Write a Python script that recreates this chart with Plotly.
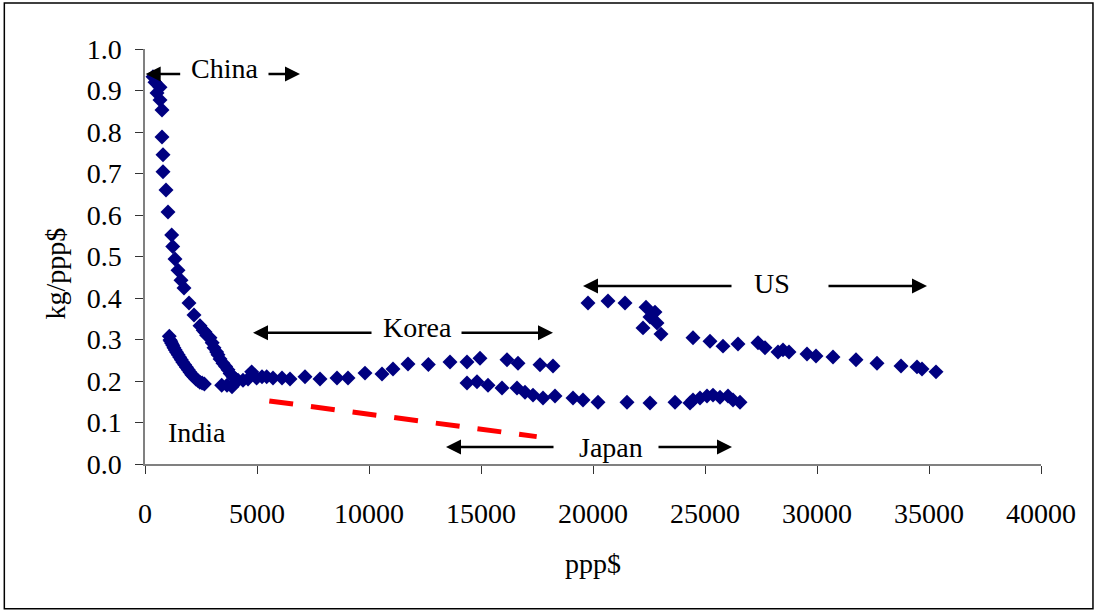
import plotly.graph_objects as go

# Energy intensity (kg per ppp$) against income (ppp$) by country
china_x = [357, 446, 536, 670, 670, 759, 759, 804, 804, 938, 1027, 1192, 1237, 1339,
           1473, 1607, 1741, 1964, 2188, 2455, 2600, 2679, 2750, 2902, 3000, 3080,
           3200, 3259, 3350, 3482, 3600, 3705, 3800, 3929, 4050, 4152, 3424, 3660, 3884]
china_y = [0.933, 0.92, 0.894, 0.908, 0.877, 0.853, 0.788, 0.745, 0.704, 0.66, 0.607,
           0.552, 0.524, 0.494, 0.467, 0.443, 0.424, 0.388, 0.359, 0.333, 0.322, 0.318,
           0.31, 0.304, 0.292, 0.28, 0.27, 0.263, 0.253, 0.243, 0.235, 0.227, 0.218,
           0.21, 0.205, 0.202, 0.19, 0.19, 0.186]

india_x = [1085, 1116, 1150, 1190, 1240, 1290, 1350, 1410, 1480, 1550, 1620, 1690,
           1770, 1850, 1930, 2010, 2090, 2180, 2270, 2360, 2450, 2550, 2650]
india_y = [0.308, 0.299, 0.296, 0.291, 0.286, 0.280, 0.275, 0.269, 0.263, 0.257,
           0.251, 0.245, 0.239, 0.233, 0.227, 0.221, 0.215, 0.210, 0.205, 0.201,
           0.197, 0.195, 0.193]

korea_x = [4375, 4600, 4762, 4985, 5223, 5432, 5714, 6116, 6473, 7143, 7813, 8571,
           9063, 9821, 10580, 11071, 11741, 12650, 13616, 14375, 14955, 16161, 16652,
           17634, 18214]
korea_y = [0.202, 0.205, 0.222, 0.207, 0.21, 0.21, 0.207, 0.207, 0.205, 0.21, 0.205,
           0.207, 0.207, 0.219, 0.217, 0.229, 0.241, 0.240, 0.246, 0.246, 0.255, 0.251,
           0.243, 0.239, 0.236]

japan_x = [14375, 14821, 15313, 15938, 16607, 16964, 17321, 17768, 18304, 19107,
           19554, 20223, 21518, 22545, 23661, 24330, 24464, 24777, 25089, 25357,
           25670, 26027, 26250, 26563]
japan_y = [0.195, 0.198, 0.19, 0.183, 0.183, 0.173, 0.166, 0.159, 0.164, 0.159,
           0.154, 0.149, 0.149, 0.147, 0.149, 0.147, 0.154, 0.159, 0.164, 0.166,
           0.161, 0.164, 0.154, 0.149]

us_x = [19777, 20670, 21429, 22366, 22768, 22545, 22857, 22232, 23036, 24464, 25223,
        25804, 26473, 27366, 27679, 28259, 28482, 28750, 29554, 29955, 30714, 31741,
        32679, 33750, 34464, 34688, 35313]
us_y = [0.388, 0.393, 0.388, 0.378, 0.366, 0.354, 0.34, 0.328, 0.313, 0.304, 0.296,
        0.284, 0.289, 0.292, 0.28, 0.27, 0.275, 0.27, 0.265, 0.26, 0.258, 0.251,
        0.243, 0.236, 0.234, 0.229, 0.222]

# Dashed trend line
trend_x = [5549, 17486]
trend_y = [0.152, 0.066]

x_ticks = [0, 5000, 10000, 15000, 20000, 25000, 30000, 35000, 40000]
y_ticks = [0.0, 0.1, 0.2, 0.3, 0.4, 0.5, 0.6, 0.7, 0.8, 0.9, 1.0]

# Labels with their arrows: (text, text_x, text_y, [(tail_x, tip_x), ...], arrow_y)
labels = [
    ("China", 3527, 0.954, [(1638, 30), (5446, 6920)], 0.94),
    ("Korea", 12143, 0.328, [(10179, 4821), (14063, 18214)], 0.316),
    ("US", 27991, 0.436, [(26250, 19554), (30446, 34911)], 0.429),
    ("Japan", 20804, 0.039, [(18304, 13438), (22857, 26205)], 0.041),
    ("India", 2321, 0.077, [], None),
]

FONT = "Liberation Serif"
NAVY = "#000080"

fig = go.Figure()

for xs, ys in [(china_x, china_y), (india_x, india_y), (korea_x, korea_y),
               (japan_x, japan_y), (us_x, us_y)]:
    fig.add_trace(go.Scatter(
        x=xs, y=ys, mode="markers",
        marker=dict(symbol="diamond", size=11.5, color=NAVY, line=dict(width=0)),
        showlegend=False, hoverinfo="x+y"))

fig.add_trace(go.Scatter(
    x=trend_x, y=trend_y, mode="lines",
    line=dict(color="#FF0000", width=5, dash="24px,18px"),
    showlegend=False, hoverinfo="skip"))

annotations = []
for text, tx, ty, arrows, ay in labels:
    annotations.append(dict(x=tx, y=ty, xref="x", yref="y", text=text,
                            showarrow=False, font=dict(family=FONT, size=28, color="black"),
                            xanchor="center", yanchor="middle"))
    for tail, tip in arrows:
        annotations.append(dict(x=tip, y=ay, ax=tail, ay=ay, xref="x", yref="y",
                                axref="x", ayref="y", text="", showarrow=True,
                                arrowhead=2, arrowsize=1.2, arrowwidth=2.5,
                                arrowcolor="black", standoff=0, startstandoff=0))

# Axis titles
annotations.append(dict(x=0.5, y=-0.24, xref="paper", yref="paper", text="ppp$",
                        showarrow=False, font=dict(family=FONT, size=28, color="black"),
                        xanchor="center", yanchor="middle"))
annotations.append(dict(x=-0.1, y=0.46, xref="paper", yref="paper", text="kg/ppp$",
                        showarrow=False, textangle=-90,
                        font=dict(family=FONT, size=28, color="black"),
                        xanchor="center", yanchor="middle"))

fig.update_layout(
    width=1097, height=613,
    margin=dict(l=145, r=56, t=49, b=149),
    paper_bgcolor="white", plot_bgcolor="white",
    annotations=annotations,
    shapes=[dict(type="rect", xref="paper", yref="paper",
                 x0=-0.157, x1=1.058, y0=-0.349, y1=1.111,
                 line=dict(color="black", width=1.5), fillcolor="rgba(0,0,0,0)",
                 layer="below")],
    font=dict(family=FONT, size=28, color="black"),
)

fig.update_xaxes(range=[0, 40000], tickvals=x_ticks, ticktext=[str(v) for v in x_ticks],
                 showgrid=False, zeroline=False, showline=True, linecolor="#808080",
                 linewidth=1.5, ticks="outside", ticklen=8, tickcolor="#333",
                 tickwidth=1, ticklabelstandoff=16,
                 tickfont=dict(family=FONT, size=28, color="black"))
fig.update_yaxes(range=[0, 1.0], tickvals=y_ticks, ticktext=[f"{v:.1f}" for v in y_ticks],
                 showgrid=False, zeroline=False, showline=True, linecolor="#808080",
                 linewidth=1.5, ticks="outside", ticklen=8, tickcolor="#333",
                 tickwidth=1, ticklabelstandoff=8,
                 tickfont=dict(family=FONT, size=28, color="black"))

fig.write_html("out.html")
